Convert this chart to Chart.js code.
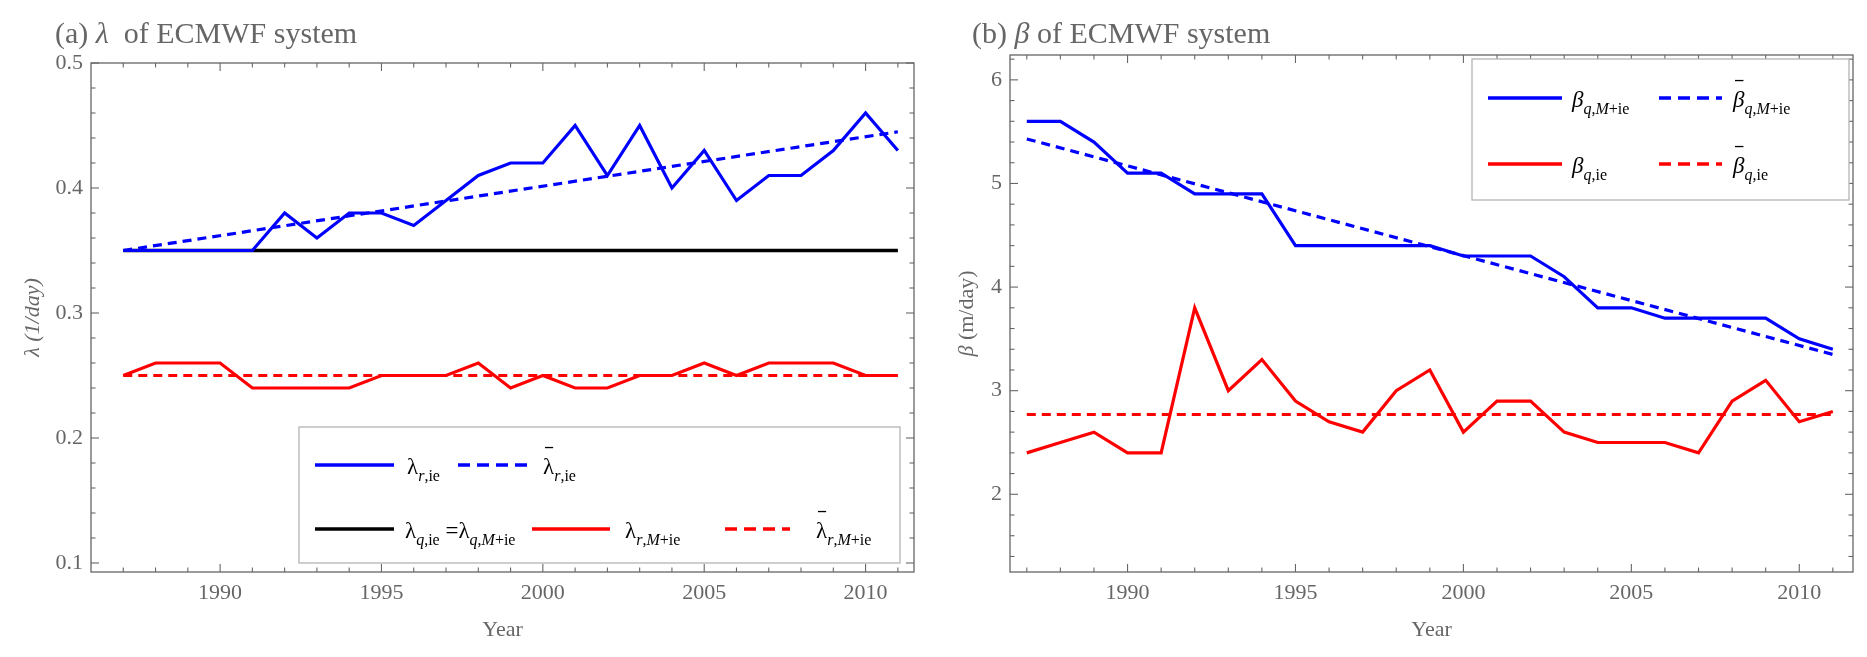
<!DOCTYPE html>
<html>
<head>
<meta charset="utf-8">
<script src="https://cdn.jsdelivr.net/npm/chart.js@4.4.1/dist/chart.umd.min.js"></script>
<style>
  html, body { margin: 0; padding: 0; background: #fff; width: 1867px; height: 657px; overflow: hidden; }
  canvas { position: absolute; top: 0; }
  #left { left: 0; }
  #right { left: 934px; }
</style>
</head>
<body>
<canvas id="left" width="934" height="657"></canvas>
<canvas id="right" width="933" height="657"></canvas>
<script>
// ---- data ----
const years = [1987, 1988, 1989, 1990, 1991, 1992, 1993, 1994, 1995, 1996, 1997, 1998, 1999,
               2000, 2001, 2002, 2003, 2004, 2005, 2006, 2007, 2008, 2009, 2010, 2011];

// (a) lambda
const lambdaRie   = [0.35, 0.35, 0.35, 0.35, 0.35, 0.38, 0.36, 0.38, 0.38, 0.37, 0.39, 0.41, 0.42,
                     0.42, 0.45, 0.41, 0.45, 0.40, 0.43, 0.39, 0.41, 0.41, 0.43, 0.46, 0.43];
const lambdaQ     = [0.35, 0.35, 0.35, 0.35, 0.35, 0.35, 0.35, 0.35, 0.35, 0.35, 0.35, 0.35, 0.35,
                     0.35, 0.35, 0.35, 0.35, 0.35, 0.35, 0.35, 0.35, 0.35, 0.35, 0.35, 0.35];
const lambdaRMie  = [0.25, 0.26, 0.26, 0.26, 0.24, 0.24, 0.24, 0.24, 0.25, 0.25, 0.25, 0.26, 0.24,
                     0.25, 0.24, 0.24, 0.25, 0.25, 0.26, 0.25, 0.26, 0.26, 0.26, 0.25, 0.25];
const fitYears        = [1987, 2011];
const lambdaRieFit    = [0.35, 0.445];
const lambdaRMieMean  = [0.25, 0.25];

// (b) beta
const betaQMie  = [5.6, 5.6, 5.4, 5.1, 5.1, 4.9, 4.9, 4.9, 4.4, 4.4, 4.4, 4.4, 4.4,
                   4.3, 4.3, 4.3, 4.1, 3.8, 3.8, 3.7, 3.7, 3.7, 3.7, 3.5, 3.4];
const betaQie   = [2.4, 2.5, 2.6, 2.4, 2.4, 3.8, 3.0, 3.3, 2.9, 2.7, 2.6, 3.0, 3.2,
                   2.6, 2.9, 2.9, 2.6, 2.5, 2.5, 2.5, 2.4, 2.9, 3.1, 2.7, 2.8];
const betaQMieFit  = [5.43, 3.35];
const betaQieMean  = [2.77, 2.77];

// tick labels
const xTicks      = [1990, 1995, 2000, 2005, 2010];
const lambdaTicks = [0.1, 0.2, 0.3, 0.4, 0.5];
const betaTicks   = [2, 3, 4, 5, 6];

const FONT = 'Liberation Serif';
const GREY = '#666';
const BLUE = '#0000ff';
const RED = '#ff0000';

function pts(xs, ys) {
  return xs.map((x, i) => ({ x: x, y: ys[i] }));
}

function line(ctx, x1, y1, x2, y2) {
  ctx.beginPath();
  ctx.moveTo(x1, y1);
  ctx.lineTo(x2, y2);
  ctx.stroke();
}

// text made of runs: [text, style]  n normal, i italic, s sub, si sub italic, b overbar
function drawRich(ctx, x, y, parts, size) {
  const sub = Math.round(size * 0.7);
  parts.forEach(([t, st]) => {
    const isSub = st[0] === 's';
    const italic = st.indexOf('i') >= 0;
    ctx.font = (italic ? 'italic ' : '') + (isSub ? sub : size) + 'px "' + FONT + '"';
    ctx.fillText(t, x, isSub ? y + size * 0.3 : y);
    const w = ctx.measureText(t).width;
    if (st.indexOf('b') >= 0) {
      ctx.save();
      ctx.lineWidth = 1.3;
      ctx.strokeStyle = ctx.fillStyle;
      line(ctx, x + 2, y - size * 1.15, x + w - 1, y - size * 1.15);
      ctx.restore();
    }
    x += w;
  });
  return x;
}

const decorPlugin = {
  id: 'decor',
  afterDraw(chart, args, o) {
    const { ctx, chartArea: a } = chart;
    const x = chart.scales.x, y = chart.scales.y;
    ctx.save();

    // frame with inward ticks on all four sides
    ctx.strokeStyle = GREY;
    ctx.lineWidth = 1.3;
    ctx.strokeRect(a.left, a.top, a.right - a.left, a.bottom - a.top);
    ctx.lineWidth = 1.1;
    for (let v = 1987; v <= 2011; v++) {
      const px = x.getPixelForValue(v);
      const len = xTicks.includes(v) ? 8 : 4.5;
      line(ctx, px, a.bottom, px, a.bottom - len);
      line(ctx, px, a.top, px, a.top + len);
    }
    for (let k = o.minorFrom; k <= o.minorTo; k++) {
      const v = k * o.minorStep;
      const py = y.getPixelForValue(v);
      const len = k % o.majorEvery === 0 ? 8 : 4.5;
      line(ctx, a.left, py, a.left + len, py);
      line(ctx, a.right, py, a.right - len, py);
    }

    // panel title
    ctx.fillStyle = GREY;
    ctx.textBaseline = 'alphabetic';
    ctx.textAlign = 'left';
    drawRich(ctx, o.titleX, 43, o.title, 30);

    // axis titles
    ctx.font = '22px "' + FONT + '"';
    ctx.textAlign = 'center';
    ctx.textBaseline = 'middle';
    ctx.fillText('Year', (a.left + a.right) / 2, 630);

    ctx.save();
    ctx.translate(o.yTitleX, (a.top + a.bottom) / 2);
    ctx.rotate(-Math.PI / 2);
    ctx.textAlign = 'left';
    ctx.textBaseline = 'alphabetic';
    let w = 0;
    o.yTitle.forEach(([t, st]) => {
      ctx.font = (st === 'i' ? 'italic ' : '') + '22px "' + FONT + '"';
      w += ctx.measureText(t).width;
    });
    drawRich(ctx, -w / 2, 7, o.yTitle, 22);
    ctx.restore();

    // legend
    const L = o.legend;
    ctx.fillStyle = '#fff';
    ctx.fillRect(L.box[0], L.box[1], L.box[2] - L.box[0], L.box[3] - L.box[1]);
    ctx.strokeStyle = '#b4b4b4';
    ctx.lineWidth = 1.3;
    ctx.strokeRect(L.box[0], L.box[1], L.box[2] - L.box[0], L.box[3] - L.box[1]);
    L.items.forEach(it => {
      ctx.strokeStyle = it.color;
      ctx.lineWidth = 3.6;
      ctx.setLineDash(it.dash ? [12, 7] : []);
      line(ctx, it.x1, it.y, it.x2, it.y);
      ctx.setLineDash([]);
      ctx.fillStyle = '#000';
      ctx.textAlign = 'left';
      ctx.textBaseline = 'alphabetic';
      drawRich(ctx, it.tx, it.y + 9, it.label, 23);
    });
    ctx.restore();
  }
};

function makePanel(id, cfg) {
  return new Chart(document.getElementById(id), {
    type: 'line',
    data: { datasets: cfg.datasets },
    options: {
      responsive: false,
      animation: false,
      devicePixelRatio: 1,
      layout: { padding: { top: cfg.top, right: cfg.right, left: 0, bottom: 0 } },
      plugins: { legend: { display: false }, tooltip: { enabled: false }, decor: cfg.decor },
      elements: { point: { radius: 0 }, line: { tension: 0, borderWidth: 3.2, borderCapStyle: 'butt' } },
      scales: {
        x: {
          type: 'linear',
          min: cfg.xMin, max: cfg.xMax,
          grid: { display: false, drawTicks: false },
          border: { display: false },
          afterBuildTicks: s => { s.ticks = xTicks.map(v => ({ value: v })); },
          afterFit: s => { s.height = 85; },
          ticks: {
            padding: 8, color: GREY, maxRotation: 0,
            font: { family: FONT, size: 22 },
            callback: v => String(v)
          }
        },
        y: {
          min: cfg.yMin, max: cfg.yMax,
          grid: { display: false, drawTicks: false },
          border: { display: false },
          afterBuildTicks: s => { s.ticks = cfg.yTicks.map(v => ({ value: v })); },
          afterFit: s => { s.width = cfg.left; },
          ticks: {
            padding: 8, color: GREY,
            font: { family: FONT, size: 22 },
            callback: cfg.yFmt
          }
        }
      }
    },
    plugins: [decorPlugin]
  });
}

// (a) lambda of ECMWF system
makePanel('left', {
  top: 63, right: 20, left: 91,
  xMin: 1986, xMax: 2011.5,
  yMin: 0.0928, yMax: 0.5, yTicks: lambdaTicks,
  yFmt: v => v.toFixed(1),
  datasets: [
    { data: pts(years, lambdaRMie), borderColor: RED, order: 1 },
    { data: pts(fitYears, lambdaRMieMean), borderColor: RED, borderDash: [9, 6], order: 2 },
    { data: pts(years, lambdaRie), borderColor: BLUE, order: 3 },
    { data: pts(fitYears, lambdaRieFit), borderColor: BLUE, borderDash: [9, 6], order: 4 },
    { data: pts(years, lambdaQ), borderColor: '#000', borderWidth: 3.6, order: 5 }
  ],
  decor: {
    minorFrom: 5, minorTo: 25, minorStep: 0.02, majorEvery: 5,
    titleX: 55,
    title: [['(a) ', 'n'], ['λ', 'i'], ['  of ECMWF system', 'n']],
    yTitleX: 32,
    yTitle: [['λ (1/day)', 'i']],
    legend: {
      box: [299, 427, 900, 563],
      items: [
        { color: BLUE, dash: false, x1: 315, x2: 394, y: 465, tx: 407,
          label: [['λ', 'n'], ['r', 'si'], [',ie', 's']] },
        { color: BLUE, dash: true, x1: 458, x2: 527, y: 465, tx: 543,
          label: [['λ', 'b'], ['r', 'si'], [',ie', 's']] },
        { color: '#000', dash: false, x1: 315, x2: 394, y: 529, tx: 405,
          label: [['λ', 'n'], ['q', 'si'], [',ie', 's'], [' =', 'n'], ['λ', 'n'], ['q', 'si'], [',', 's'], ['M', 'si'], ['+ie', 's']] },
        { color: RED, dash: false, x1: 532, x2: 610, y: 529, tx: 625,
          label: [['λ', 'n'], ['r', 'si'], [',', 's'], ['M', 'si'], ['+ie', 's']] },
        { color: RED, dash: true, x1: 725, x2: 790, y: 529, tx: 816,
          label: [['λ', 'b'], ['r', 'si'], [',', 's'], ['M', 'si'], ['+ie', 's']] }
      ]
    }
  }
});

// (b) beta of ECMWF system
makePanel('right', {
  top: 55, right: 14, left: 76,
  xMin: 1986.5, xMax: 2011.6,
  yMin: 1.25, yMax: 6.24, yTicks: betaTicks,
  yFmt: v => String(v),
  datasets: [
    { data: pts(years, betaQMie), borderColor: BLUE, order: 1 },
    { data: pts(fitYears, betaQMieFit), borderColor: BLUE, borderDash: [9, 6], order: 2 },
    { data: pts(years, betaQie), borderColor: RED, order: 3 },
    { data: pts(fitYears, betaQieMean), borderColor: RED, borderDash: [9, 6], order: 4 }
  ],
  decor: {
    minorFrom: 7, minorTo: 31, minorStep: 0.2, majorEvery: 5,
    titleX: 38,
    title: [['(b) ', 'n'], ['β', 'i'], [' of ECMWF system', 'n']],
    yTitleX: 32,
    yTitle: [['β', 'i'], [' (m/day)', 'n']],
    legend: {
      box: [538, 59, 915, 200],
      items: [
        { color: BLUE, dash: false, x1: 554, x2: 628, y: 98, tx: 638,
          label: [['β', 'i'], ['q', 'si'], [',', 's'], ['M', 'si'], ['+ie', 's']] },
        { color: BLUE, dash: true, x1: 725, x2: 788, y: 98, tx: 799,
          label: [['β', 'ib'], ['q', 'si'], [',', 's'], ['M', 'si'], ['+ie', 's']] },
        { color: RED, dash: false, x1: 554, x2: 628, y: 164, tx: 638,
          label: [['β', 'i'], ['q', 'si'], [',ie', 's']] },
        { color: RED, dash: true, x1: 725, x2: 788, y: 164, tx: 799,
          label: [['β', 'ib'], ['q', 'si'], [',ie', 's']] }
      ]
    }
  }
});
</script>
</body>
</html>
